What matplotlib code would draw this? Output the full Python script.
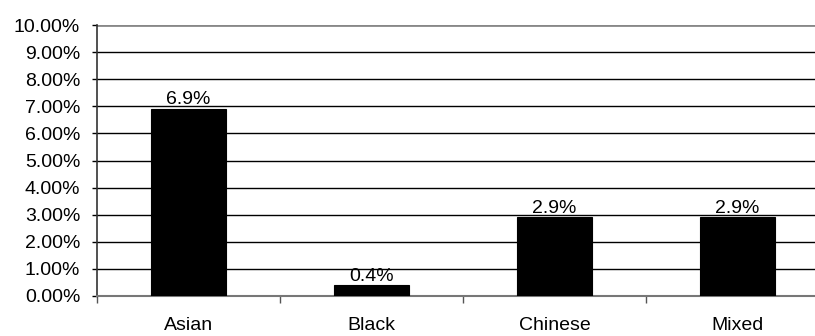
import matplotlib.pyplot as plt
from matplotlib.ticker import FixedLocator, FuncFormatter

plt.rcParams['font.family'] = ['Liberation Sans', 'DejaVu Sans']

categories = ['Asian', 'Black', 'Chinese', 'Mixed']
values = [6.9, 0.4, 2.9, 2.9]
value_labels = ['6.9%', '0.4%', '2.9%', '2.9%']

W, H = 815, 336
fig = plt.figure(figsize=(W / 100, H / 100), dpi=100)
# plot area runs past the right edge of the picture, as in the reference
ax = fig.add_axes([97 / W, 1 - 296 / H, 732 / W, 271 / H])

x = list(range(len(categories)))
ax.bar(x, values, width=0.41, color='black', edgecolor='black', linewidth=0.8, zorder=3)

for xi, v, lab in zip(x, values, value_labels):
    ax.text(xi, v + 0.02, lab, ha='center', va='bottom', fontsize=14, zorder=4)

ax.set_xlim(-0.5, 3.5)
ax.set_ylim(0, 10)
ax.set_yticks(range(0, 11))
ax.yaxis.set_major_formatter(FuncFormatter(lambda v, p: '%.2f%%' % v))
ax.tick_params(axis='y', labelsize=14, length=3.6, direction='out', width=1, pad=8.5)

ax.set_xticks(x)
ax.set_xticklabels(categories)
ax.tick_params(axis='x', which='major', length=0, labelsize=14, pad=15)
ax.xaxis.set_minor_locator(FixedLocator([-0.5, 0.5, 1.5, 2.5]))
ax.tick_params(axis='x', which='minor', length=5, width=1, color='#555555')

for yv in range(1, 10):
    ax.axhline(yv, color='black', linewidth=1, zorder=1)
ax.axhline(10, color='#888888', linewidth=2, zorder=1)

ax.spines['top'].set_visible(False)
ax.spines['right'].set_visible(False)
ax.spines['left'].set_color('#333333')
ax.spines['left'].set_linewidth(1.2)
ax.spines['bottom'].set_color('#777777')
ax.spines['bottom'].set_linewidth(1.5)

fig.savefig('out.png', dpi=100)
